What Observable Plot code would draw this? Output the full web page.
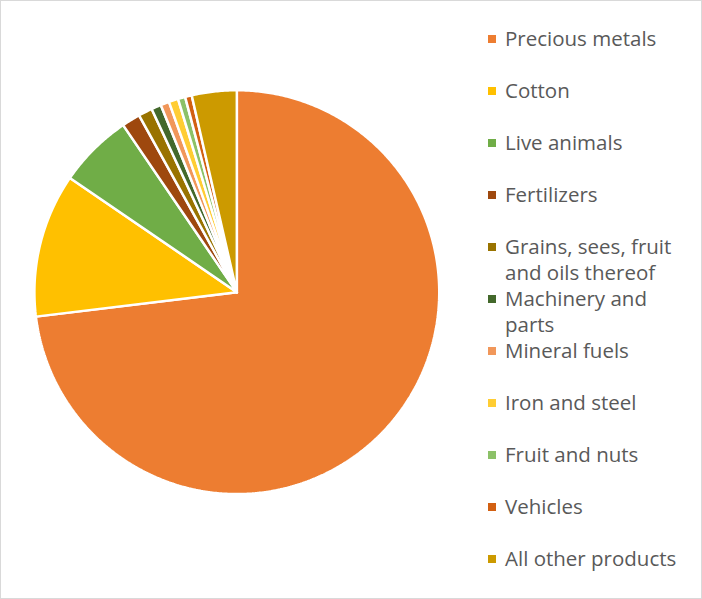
<!DOCTYPE html>
<html><head><meta charset="utf-8">
<script src="https://cdn.jsdelivr.net/npm/d3@7"></script>
<script src="https://cdn.jsdelivr.net/npm/@observablehq/plot@0.6"></script>
<style>
body{margin:0;background:#fff;font-family:"Open Sans",Lato,sans-serif;}
#chart{position:relative;width:702px;height:599px;box-sizing:border-box;border:1px solid #d9d9d9;overflow:hidden;}
#chart svg{position:absolute;left:0;top:0;}
#legend{position:absolute;left:487px;top:24px;}
.row{height:52px;display:flex;align-items:flex-start;}
.sw{width:8px;height:8px;margin-top:10px;margin-right:9px;flex:none;}
.lb{font-size:20.5px;line-height:26px;color:#595959;white-space:nowrap;}
</style></head>
<body><div id="chart"><div id="legend"></div></div>
<script>
const categories = ["Precious metals","Cotton","Live animals","Fertilizers","Grains, sees, fruit and oils thereof","Machinery and parts","Mineral fuels","Iron and steel","Fruit and nuts","Vehicles","All other products"];
const legendLabels = ["Precious metals","Cotton","Live animals","Fertilizers","Grains, sees, fruit<br>and oils thereof","Machinery and<br>parts","Mineral fuels","Iron and steel","Fruit and nuts","Vehicles","All other products"];
const values = [73.06, 11.5, 5.94, 1.47, 1.11, 0.78, 0.69, 0.75, 0.58, 0.53, 3.58];
const colors = ["#ED7D31","#FFC000","#70AD47","#9E480E","#997300","#43682B","#F1975A","#FFCD33","#8CC168","#D26012","#CC9A00"];

const total = d3.sum(values);
const pts = [];
let start = 0;
categories.forEach((c, i) => {
  const a0 = start / total * 2 * Math.PI;
  const a1 = (start + values[i]) / total * 2 * Math.PI;
  start += values[i];
  pts.push({cat: c, x: 0, y: 0});
  const n = Math.max(2, Math.ceil((a1 - a0) / (Math.PI / 360)));
  for (let k = 0; k <= n; k++) {
    const a = a0 + (a1 - a0) * k / n;
    pts.push({cat: c, x: Math.sin(a), y: Math.cos(a)});
  }
  pts.push({cat: c, x: 0, y: 0});
});

const plot = Plot.plot({
  width: 702, height: 599,
  marginLeft: 33, marginRight: 263, marginTop: 89, marginBottom: 105,
  x: {domain: [-1, 1], axis: null},
  y: {domain: [-1, 1], axis: null},
  color: {domain: categories, range: colors},
  marks: [
    Plot.line(pts, {x: "x", y: "y", z: "cat", fill: "cat", stroke: "white", strokeWidth: 2.5, strokeLinejoin: "miter", curve: "linear"})
  ]
});
document.getElementById("chart").prepend(plot);

const lg = document.getElementById("legend");
categories.forEach((c, i) => {
  const r = document.createElement("div"); r.className = "row";
  r.innerHTML = `<div class="sw" style="background:${colors[i]}"></div><div class="lb">${legendLabels[i]}</div>`;
  lg.appendChild(r);
});
</script></body></html>
